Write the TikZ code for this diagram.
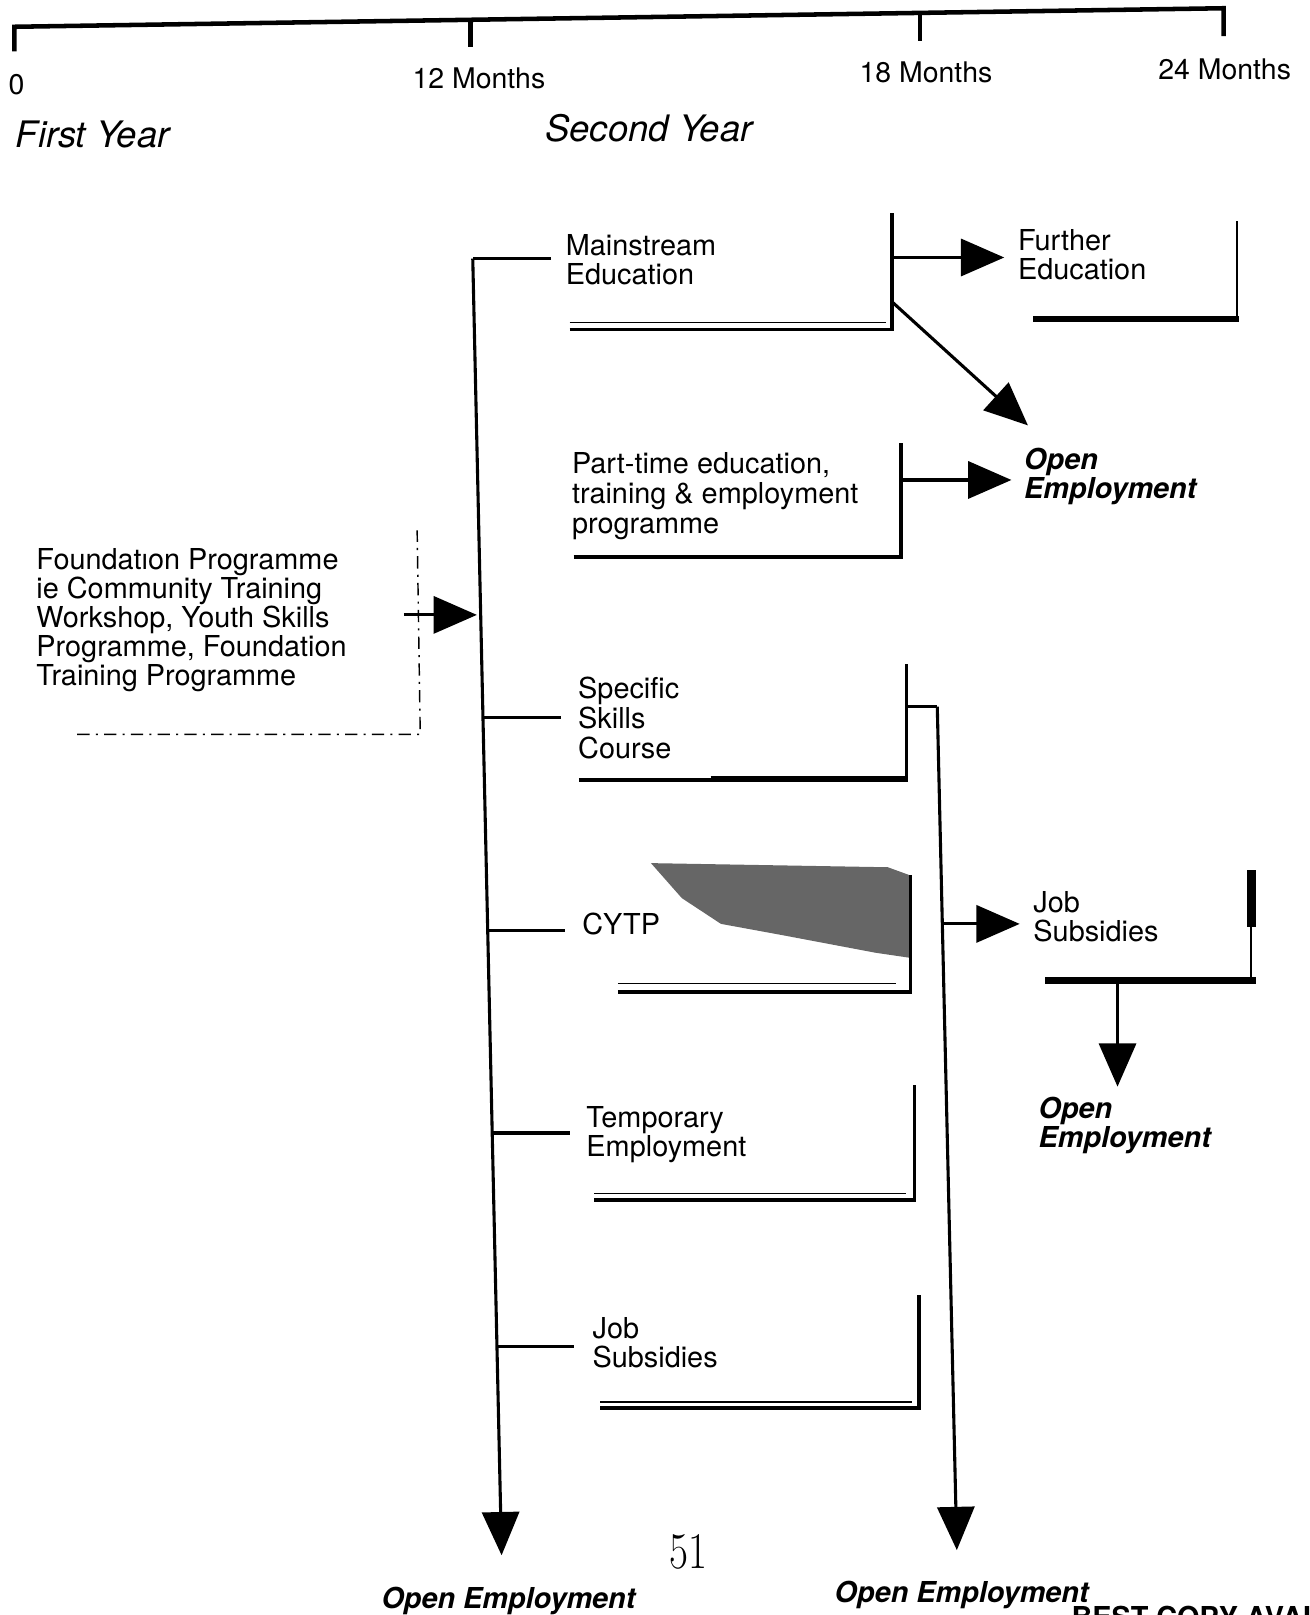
\documentclass[tikz,border=0pt]{standalone}
\usepackage{fontspec}
\setsansfont{TeX Gyre Heros}
\usetikzlibrary{arrows.meta}
\begin{document}
\begin{tikzpicture}[x=0.5pt,y=-0.5pt,
  tl/.style={line width=2.2pt, line join=miter},
  conn/.style={line width=1.5pt},
  arr/.style={line width=1.5pt,-{Triangle[length=21pt,width=18pt]}},
  shade/.style={line width=1.8pt, line join=miter},
  faint/.style={line width=0.7pt, dash pattern=on 6pt off 3pt on 1pt off 3pt},
  lbl/.style={inner sep=0pt, anchor=north west, align=left, font=\sffamily\fontsize{14}{14.1}\selectfont},
  mon/.style={inner sep=0pt, anchor=center, font=\sffamily\fontsize{13.8}{14}\selectfont},
  yr/.style={inner sep=0pt, anchor=center, font=\sffamily\itshape\fontsize{17.7}{18}\selectfont},
  oe/.style={inner sep=0pt, anchor=north west, align=left, font=\sffamily\bfseries\itshape\fontsize{14}{14.1}\selectfont}
]
\useasboundingbox (0,0) rectangle (1271,1568);
\clip (0,0) rectangle (1271,1568);

% ---------- time line ----------
\coordinate (t0) at (14,26);   \coordinate (t0b) at (14,50);
\coordinate (t12) at (457,19); \coordinate (t12b) at (457,46);
\coordinate (t18) at (893,13); \coordinate (t18b) at (893,40);
\coordinate (t24) at (1188,8); \coordinate (t24b) at (1188,35);
\draw[tl] (t0b) -- (t0) -- (t24) -- (t24b);
\draw[tl] (t12) -- (t12b);
\draw[tl] (t18) -- (t18b);

\node[mon] (l0) at (16,82) {0};
\node[mon] (l12) at (465,76) {12 Months};
\node[mon] (l18) at (899,70) {18 Months};
\node[mon] (l24) at (1189,67) {24 Months};
\node[yr] (fy) at (90,131) {First Year};
\node[yr] (sy) at (630,124) {Second Year};

% ---------- labels ----------
\node[lbl] (found) at (35,532) {Foundat\i on Programme\\ie Community Training\\Workshop, Youth Skills\\Programme, Foundation\\Training Programme};
\node[lbl] (mains) at (549,227) {Mainstream\\Education};
\node[lbl] (further) at (988,222) {Further\\Education};
\node[lbl, font=\sffamily\fontsize{14}{14.5}\selectfont] (part) at (555,439) {Part-time education,\\training \& employment\\programme};
\node[oe] (oe1) at (994,435) {Open\\Employment};
\node[lbl, font=\sffamily\fontsize{14}{14.5}\selectfont] (spec) at (561,657) {Specific\\Skills\\Course};
\node[lbl] (cytp) at (565,886) {CYTP};
\node[lbl] (jobr) at (1003,865) {Job\\Subsidies};
\node[oe] (oe2) at (1008,1065) {Open\\Employment};
\node[lbl] (temp) at (569,1074) {Temporary\\Employment};
\node[lbl] (jobl) at (575,1279) {Job\\Subsidies};
\node[oe] (oe3) at (370,1541) {Open Employment};
\node[oe] (oe4) at (810,1535) {Open Employment};
\node[inner sep=0pt, font=\fontsize{25}{26}\selectfont] (pg) at (668,1507) {\scalebox{0.8}[1]{51}};
\node[inner sep=0pt, anchor=north west, font=\sffamily\bfseries\fontsize{14}{14}\selectfont] (best) at (1040,1559) {BEST COPY AVAILABLE};

% ---------- box shadows ----------
\draw[faint] (75,713) -- (408,713) -- (405,515);
\draw[shade] (553,320) -- (866,320) -- (866,207);
\draw[line width=0.7pt] (553,313) -- (860,313);
\draw[line width=1pt] (1201,215) -- (1201,310);
\draw[line width=3pt] (1003,310) -- (1203,310);
\draw[shade] (557,541) -- (875,541) -- (875,430);
\draw[shade] (562,757) -- (880,757) -- (880,645);
\draw[line width=3pt] (690,756) -- (880,756);
\fill[black!60] (632,838) -- (862,842) -- (884,850) -- (884,930) -- (850,925) -- (760,908) -- (700,897) -- (662,872) -- cycle;
\draw[shade] (600,963) -- (884,963) -- (884,850);
\draw[line width=0.7pt] (600,955) -- (870,955);
\draw[shade] (577,1165) -- (888,1165) -- (888,1053);
\draw[line width=0.7pt] (577,1159) -- (880,1159);
\draw[shade] (583,1367) -- (892,1367) -- (892,1257);
\draw[line width=0.7pt] (583,1361) -- (885,1361);
\draw[line width=1pt] (1215,900) -- (1215,952);
\draw[line width=4pt] (1215,845) -- (1215,900);
\draw[line width=3pt] (1015,952) -- (1219,952);

% ---------- connectors ----------
\coordinate (vtop) at (459,251);
\coordinate (vbot) at (487,1510);
\coordinate (mainsL) at (535,251);
\draw[conn] (mainsL) -- (vtop);
\draw[arr] (vtop) -- (vbot);

\coordinate (fin) at (392,597);
\coordinate (fout) at (463,597);
\draw[arr] (fin) -- (fout);

\coordinate (b3a) at (469,697);  \coordinate (b3b) at (545,697);
\coordinate (b4a) at (473,903);  \coordinate (b4b) at (549,903);
\coordinate (b5a) at (478,1100); \coordinate (b5b) at (553,1100);
\coordinate (b6a) at (482,1307); \coordinate (b6b) at (557,1307);
\draw[conn] (b3a) -- (b3b);
\draw[conn] (b4a) -- (b4b);
\draw[conn] (b5a) -- (b5b);
\draw[conn] (b6a) -- (b6b);

\coordinate (m1) at (866,250); \coordinate (m1t) at (975,250);
\draw[arr] (m1) -- (m1t);
\coordinate (m2) at (866,293); \coordinate (m2t) at (998,413);
\draw[arr] (m2) -- (m2t);
\coordinate (p1) at (875,466); \coordinate (p1t) at (982,466);
\draw[arr] (p1) -- (p1t);

\coordinate (s1) at (880,686); \coordinate (s2) at (910,686); \coordinate (s3) at (929,1505);
\draw[conn] (s1) -- (s2);
\draw[arr] (s2) -- (s3);
\coordinate (j1) at (915,897); \coordinate (j1t) at (990,897);
\draw[arr] (j1) -- (j1t);
\coordinate (j2) at (1085,952); \coordinate (j2t) at (1085,1055);
\draw[arr] (j2) -- (j2t);
\end{tikzpicture}
\end{document}
